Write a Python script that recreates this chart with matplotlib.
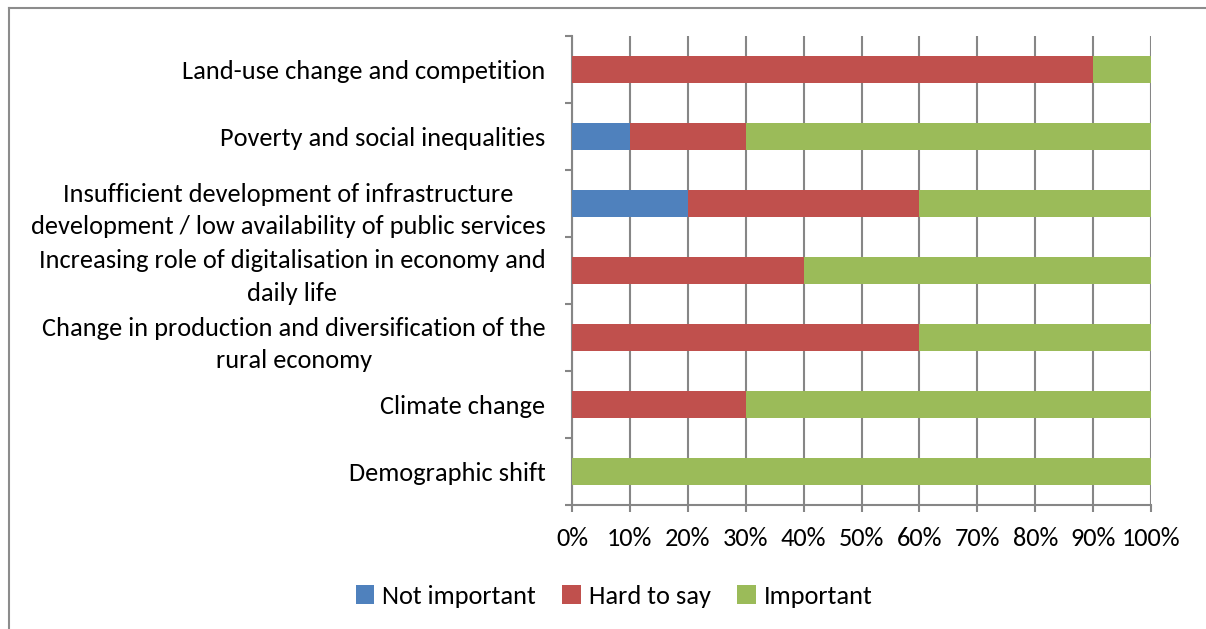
import matplotlib
matplotlib.use("Agg")
import matplotlib.pyplot as plt
from matplotlib.lines import Line2D
import numpy as np

plt.rcParams['font.family'] = ['Carlito', 'Lato', 'DejaVu Sans']

categories = [
    "Demographic shift",
    "Climate change",
    "Change in production and diversification of the\nrural economy",
    "Increasing role of digitalisation in economy and\ndaily life",
    "Insufficient development of infrastructure\ndevelopment / low availability of public services",
    "Poverty and social inequalities",
    "Land-use change and competition",
]
not_important = [0, 0, 0, 0, 20, 10, 0]
hard_to_say = [0, 30, 60, 40, 40, 20, 90]
important = [100, 70, 40, 60, 40, 70, 10]
series_names = ["Not important", "Hard to say", "Important"]
colors = ["#4F81BD", "#C0504D", "#9BBB59"]
xticks = [0, 10, 20, 30, 40, 50, 60, 70, 80, 90, 100]

FS = 19
W, H = 1206, 629
fig = plt.figure(figsize=(W / 100, H / 100), dpi=100)
ax = fig.add_axes([572 / W, 1 - 505 / H, (1151 - 572) / W, (505 - 36) / H])

y = np.arange(len(categories))
left = np.zeros(len(categories))
bars = []
for vals, name, c in zip([not_important, hard_to_say, important], series_names, colors):
    b = ax.barh(y, vals, left=left, height=0.4, color=c, label=name, zorder=3)
    bars.append(b)
    left = left + np.array(vals)

ax.set_xlim(0, 100)
ax.set_ylim(-0.5, len(categories) - 0.5)
ax.set_xticks(xticks)
ax.set_xticklabels([f"{v}%" for v in xticks], fontsize=FS)
ax.set_yticks(y)
ax.set_yticklabels(categories, fontsize=FS, multialignment='center', linespacing=1.5)
ax.set_yticks(np.arange(-0.5, len(categories), 1.0), minor=True)

grid_c = "#868686"
ax.grid(axis='x', color=grid_c, linewidth=1.5, zorder=0)
ax.set_axisbelow(True)
for s in ["top", "right"]:
    ax.spines[s].set_visible(False)
for s in ["left", "bottom"]:
    ax.spines[s].set_color(grid_c)
    ax.spines[s].set_linewidth(1.5)

ax.tick_params(axis='y', which='major', length=0, pad=19)
ax.tick_params(axis='y', which='minor', length=5, width=1.5, color=grid_c, direction='out')
ax.tick_params(axis='x', which='major', length=5, width=1.5, color=grid_c, pad=11)

fig.legend(handles=bars, labels=series_names, loc='center', bbox_to_anchor=(614 / W, 1 - 596 / H),
           ncol=3, frameon=False, fontsize=FS, handlelength=0.7, handleheight=0.7,
           handletextpad=0.3, columnspacing=1.0)

# outer chart border (top and left visible)
fig.add_artist(Line2D([9 / W, 1], [1 - 8 / H, 1 - 8 / H], transform=fig.transFigure, color="#8c8c8c", linewidth=1.5))
fig.add_artist(Line2D([9 / W, 9 / W], [0, 1 - 8 / H], transform=fig.transFigure, color="#8c8c8c", linewidth=1.5))

fig.savefig("out.png", dpi=100)
